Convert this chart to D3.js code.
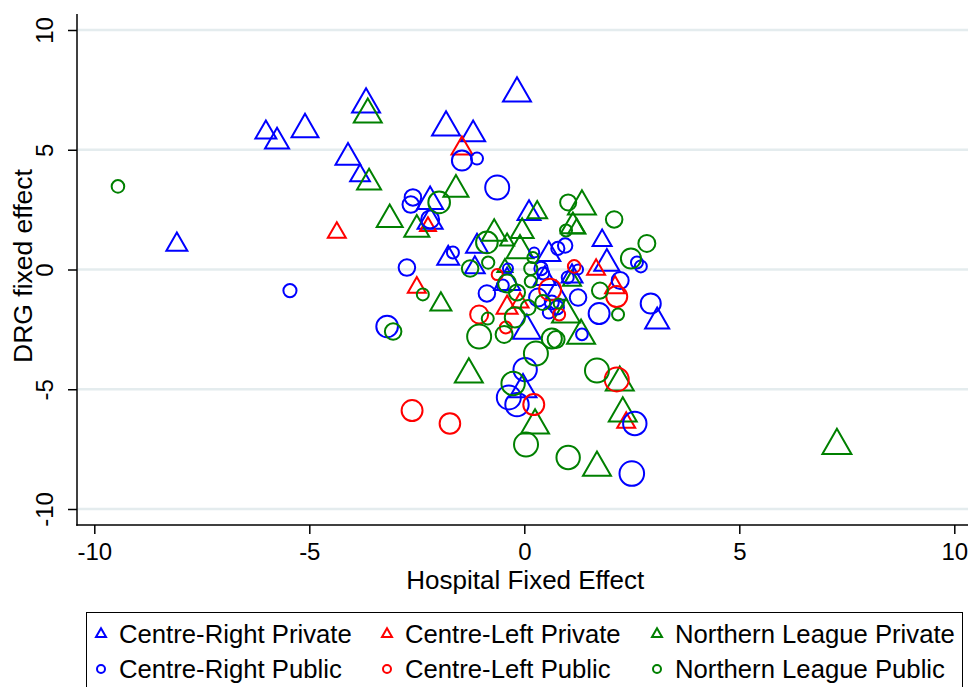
<!DOCTYPE html>
<html>
<head>
<meta charset="utf-8">
<script src="https://cdn.jsdelivr.net/npm/d3@7"></script>
<style>
  html, body { margin: 0; padding: 0; background: #fff; }
  svg { display: block; font-family: "Liberation Sans", Arial, Helvetica, sans-serif; }
</style>
</head>
<body>
<svg id="chart" width="968" height="687"></svg>
<script>
// ---------------- DATA ----------------
// each point: [hospital fixed effect, DRG fixed effect, weight]
const seriesNames = ["Centre-Right Private", "Centre-Left Private", "Northern League Private",
                     "Centre-Right Public", "Centre-Left Public", "Northern League Public"];

const crPrivate = [
  [-8.08, 1.04, 2.25], [-6.01, 5.72, 2.25], [-5.75, 5.34, 2.95], [-5.10, 5.85, 3.7],
  [-3.68, 6.89, 4.0], [-4.10, 4.68, 3.2], [-3.82, 3.92, 2.0], [-1.82, 5.93, 4.0],
  [-1.19, 5.64, 2.95], [-0.17, 7.35, 4.0], [-2.19, 2.84, 3.45], [-2.19, 2.00, 3.2],
  [-1.77, 0.46, 2.45], [0.11, 2.34, 2.7], [-1.10, 0.96, 2.45], [-1.15, 0.08, 2.0],
  [0.57, 0.63, 2.7], [1.81, 1.21, 1.85], [1.92, 0.25, 3.2], [1.11, -0.29, 2.25],
  [-0.40, -0.54, 3.45], [0.06, -2.55, 4.0], [-0.03, -5.01, 3.7], [3.09, -2.17, 2.95],
  [0.48, -0.38, 2.45], [0.74, -1.00, 2.45]
];
const clPrivate = [
  [-4.36, 1.54, 1.65], [-1.45, 5.05, 2.25], [-2.24, 1.80, 1.3], [-2.50, -0.75, 1.65],
  [-0.40, -1.59, 2.25], [-0.10, -1.38, 1.5], [1.67, 0.00, 1.65], [2.11, -0.75, 2.0],
  [2.37, -6.39, 1.65]
];
const nlPrivate = [
  [-3.64, 6.47, 4.0], [-3.61, 3.63, 2.95], [-3.13, 2.09, 3.45], [-1.59, 3.34, 3.2],
  [-2.50, 1.67, 3.2], [-1.94, -1.46, 2.25], [0.30, 2.38, 2.0], [1.34, 2.63, 4.0],
  [1.13, 1.80, 2.95], [1.22, 1.71, 1.5], [-0.70, 1.50, 3.2], [-0.05, 1.59, 2.7],
  [-0.40, 1.17, 1.0], [-0.10, 0.79, 3.7], [-0.45, 0.08, 1.15], [1.11, -0.46, 1.65],
  [0.97, -1.88, 4.0], [1.32, -2.76, 4.0], [-1.29, -4.38, 4.0], [2.22, -4.72, 4.0],
  [2.29, -6.01, 4.0], [0.25, -6.51, 4.0], [1.69, -8.27, 4.0], [7.27, -7.35, 4.3]
];
const crPublic = [
  [-5.45, -0.88, 1.2], [-1.45, 4.55, 2.8], [-1.10, 4.63, 1.0], [-0.63, 3.42, 4.0],
  [-2.59, 3.01, 1.9], [-2.64, 2.71, 1.9], [-2.19, 2.09, 2.25], [-1.66, 0.71, 1.0],
  [-2.73, 0.08, 1.9], [-3.19, -2.38, 3.25], [-0.87, -1.00, 1.9], [0.23, 0.71, 0.7],
  [0.78, 0.88, 1.2], [0.95, 1.00, 1.45], [1.25, 0.00, 0.7], [2.23, -0.46, 2.0],
  [2.62, 0.29, 1.0], [2.71, 0.13, 1.0], [2.94, -1.42, 2.8], [1.74, -1.84, 3.05],
  [1.25, -1.17, 1.9], [1.34, -2.71, 0.95], [0.02, -4.18, 3.8], [-0.36, -5.34, 4.0],
  [-0.17, -5.64, 3.8], [2.57, -6.43, 3.8], [2.50, -8.52, 4.2], [0.39, 0.04, 1.25],
  [0.44, -0.17, 1.0], [0.32, -1.17, 2.25], [0.64, -1.38, 1.35], [0.76, -1.59, 1.35],
  [0.57, -1.80, 1.0], [-0.50, -0.67, 1.0], [-0.38, 0.04, 0.7], [1.01, -0.33, 1.0]
];
const clPublic = [
  [-2.61, -5.89, 3.05], [-1.73, -6.43, 2.95], [-1.05, -1.88, 2.25], [-0.63, -0.21, 0.85],
  [-0.43, -2.42, 1.0], [0.22, -5.64, 3.05], [0.60, -0.84, 3.35], [0.81, -1.88, 1.0],
  [1.16, 0.13, 1.1], [2.15, -1.13, 3.05], [2.15, -4.59, 4.0]
];
const nlPublic = [
  [-9.45, 3.47, 1.1], [-1.98, 2.80, 3.25], [-2.36, -1.04, 1.0], [-3.05, -2.59, 1.9],
  [-1.26, 0.04, 1.9], [-0.87, 1.13, 3.25], [-0.84, 0.29, 1.05], [1.02, 2.80, 1.8],
  [0.97, 1.63, 1.0], [2.09, 2.09, 1.9], [2.85, 1.09, 2.0], [2.48, 0.46, 2.8],
  [0.20, 0.50, 0.85], [0.15, 0.04, 1.2], [0.15, -0.50, 1.0], [-0.40, -0.58, 2.25],
  [-0.17, -0.96, 1.8], [-0.85, -2.05, 1.0], [-1.05, -2.80, 4.0], [-0.47, -2.71, 2.0],
  [-0.22, -2.00, 2.8], [0.09, -1.59, 1.55], [0.43, -1.38, 1.55], [0.80, -1.42, 0.7],
  [1.76, -0.88, 1.8], [2.18, -1.88, 1.0], [0.64, -2.88, 2.8], [0.74, -2.92, 2.0],
  [0.27, -3.51, 4.0], [-0.26, -4.76, 3.8], [1.69, -4.22, 4.0], [0.04, -7.31, 4.0],
  [1.02, -7.85, 3.8]
];
const tickValues = [-10, -5, 0, 5, 10];
const xTitle = "Hospital Fixed Effect";
const yTitle = "DRG fixed effect";

// ---------------- STYLE / LAYOUT ----------------
const series = [
  { name: seriesNames[0], data: crPrivate, color: "#0000ff", shape: "tri" },
  { name: seriesNames[1], data: clPrivate, color: "#ff0000", shape: "tri" },
  { name: seriesNames[2], data: nlPrivate, color: "#008000", shape: "tri" },
  { name: seriesNames[3], data: crPublic,  color: "#0000ff", shape: "circ" },
  { name: seriesNames[4], data: clPublic,  color: "#ff0000", shape: "circ" },
  { name: seriesNames[5], data: nlPublic,  color: "#008000", shape: "circ" }
];

const svg = d3.select("#chart");
const W = 968, H = 687;
svg.append("rect").attr("width", W).attr("height", H).attr("fill", "#fff");

const plotLeft = 77, plotRight = 968, plotTop = 14, plotBottom = 525;
const x = d3.scaleLinear().domain([-10, 10]).range([94.3, 954.3]);
const y = d3.scaleLinear().domain([-10, 10]).range([509, 30]);
const rScale = d3.scaleSqrt().domain([0, 4]).range([0, 12]);

const fontTick = 24, fontTitle = 26, fontLegend = 25.7;

// gridlines
svg.append("g").selectAll("line").data(tickValues).join("line")
  .attr("x1", plotLeft + 1).attr("x2", plotRight)
  .attr("y1", d => y(d)).attr("y2", d => y(d))
  .attr("stroke", "#e4ecee").attr("stroke-width", 2.5);

// y axis
const yAxis = d3.axisLeft(y).tickValues(tickValues).tickSize(9).tickSizeOuter(0)
  .tickFormat(d3.format("d"));
const gy = svg.append("g").attr("transform", `translate(${plotLeft},0)`).call(yAxis);
gy.select(".domain").remove();
gy.selectAll(".tick line").attr("stroke", "#000").attr("stroke-width", 1.5);
gy.selectAll(".tick text")
  .attr("transform", "rotate(-90)")
  .attr("x", 0).attr("y", -24).attr("dy", 0)
  .attr("text-anchor", "middle")
  .style("font-size", fontTick + "px").attr("fill", "#000")
  .text(d => d < 0 ? "-" + Math.abs(d) : String(d));
svg.append("line").attr("x1", plotLeft).attr("x2", plotLeft)
  .attr("y1", plotTop).attr("y2", plotBottom + 0.75)
  .attr("stroke", "#000").attr("stroke-width", 1.5);

// x axis
const xAxis = d3.axisBottom(x).tickValues(tickValues).tickSize(9).tickSizeOuter(0)
  .tickFormat(d => d < 0 ? "-" + Math.abs(d) : String(d));
const gx = svg.append("g").attr("transform", `translate(0,${plotBottom})`).call(xAxis);
gx.select(".domain").remove();
gx.selectAll(".tick line").attr("stroke", "#000").attr("stroke-width", 1.5);
gx.selectAll(".tick text").attr("y", 35).attr("dy", 0)
  .style("font-size", fontTick + "px").attr("fill", "#000");
svg.append("line").attr("x1", plotLeft - 0.75).attr("x2", plotRight)
  .attr("y1", plotBottom).attr("y2", plotBottom)
  .attr("stroke", "#000").attr("stroke-width", 1.5);

// axis titles
svg.append("text").attr("x", x(0)+1).attr("y", 589).attr("text-anchor", "middle")
  .style("font-size", fontTitle + "px").text(xTitle);
svg.append("text").attr("transform", `translate(32,266) rotate(-90)`)
  .attr("text-anchor", "middle").style("font-size", (fontTitle + 0.5) + "px").text(yTitle);

// marker paths
function triPath(side) {
  const h = side * Math.sqrt(3) / 2;
  return `M0,${-2 * h / 3}L${side / 2},${h / 3}L${-side / 2},${h / 3}Z`;
}

const plot = svg.append("g");
series.forEach(s => {
  const g = plot.append("g");
  if (s.shape === "tri") {
    g.selectAll("path").data(s.data).join("path")
      .attr("transform", d => `translate(${x(d[0])},${y(d[1])})`)
      .attr("d", d => triPath(2.33 * rScale(d[2])))
      .attr("fill", "none").attr("stroke", s.color).attr("stroke-width", 2)
      .attr("stroke-linejoin", "miter");
  } else {
    g.selectAll("circle").data(s.data).join("circle")
      .attr("cx", d => x(d[0])).attr("cy", d => y(d[1]))
      .attr("r", d => rScale(d[2]))
      .attr("fill", "none").attr("stroke", s.color).attr("stroke-width", 2);
  }
});

// legend
const leg = svg.append("g");
leg.append("rect").attr("x", 86.5).attr("y", 612.5).attr("width", 876).attr("height", 90)
  .attr("fill", "#fff").attr("stroke", "#000").attr("stroke-width", 1);
const colX = [101, 387, 657];
const rowY = [634, 669];
series.forEach((s, i) => {
  const cx = colX[i % 3], cy = rowY[Math.floor(i / 3)];
  if (s.shape === "tri") {
    leg.append("path").attr("transform", `translate(${cx},${cy})`).attr("d", triPath(10))
      .attr("fill", "none").attr("stroke", s.color).attr("stroke-width", 2);
  } else {
    leg.append("circle").attr("cx", cx).attr("cy", cy).attr("r", 4)
      .attr("fill", "none").attr("stroke", s.color).attr("stroke-width", 2);
  }
  leg.append("text").attr("x", cx + 18).attr("y", cy + 9)
    .style("font-size", fontLegend + "px").text(s.name);
});
</script>
</body>
</html>
